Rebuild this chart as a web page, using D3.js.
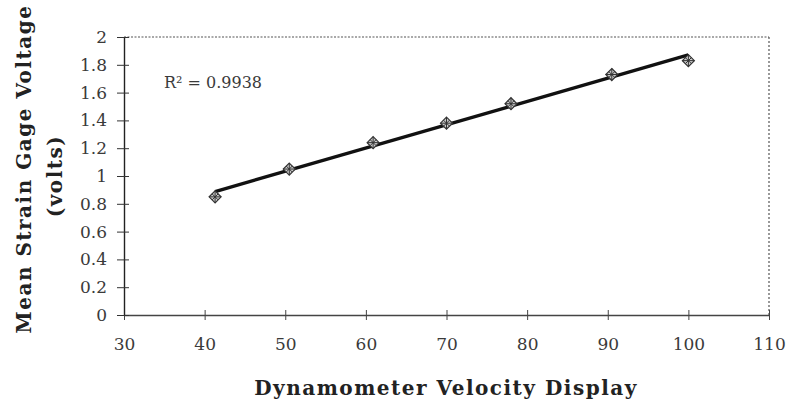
<!DOCTYPE html>
<html><head><meta charset="utf-8">
<script src="https://cdnjs.cloudflare.com/ajax/libs/d3/7.8.5/d3.min.js"></script>
<style>body{margin:0;background:#fff;} svg{display:block;}</style>
</head><body>
<svg id="c" width="788" height="406"></svg>
<script>
const xVals = [41.3, 50.5, 60.9, 70.0, 78.0, 90.5, 100.0];
const yVals = [0.85, 1.05, 1.24, 1.38, 1.52, 1.73, 1.83];
const xTicks = [30, 40, 50, 60, 70, 80, 90, 100, 110];
const yTicks = [0, 0.2, 0.4, 0.6, 0.8, 1, 1.2, 1.4, 1.6, 1.8, 2];
const rLabel = "R² = 0.9938";
const xTitle = "Dynamometer Velocity Display";
const yTitle1 = "Mean Strain Gage Voltage";
const yTitle2 = "(volts)";

const svg = d3.select("#c");
const L = 124, R = 769, T = 37, B = 315;
const x = d3.scaleLinear().domain([30, 110]).range([L, R]);
const y = d3.scaleLinear().domain([0, 2]).range([B, T]);
const serif = "'DejaVu Serif','Liberation Serif',serif";

// plot border (dotted top & right)
svg.append("line").attr("x1", L).attr("x2", R).attr("y1", T).attr("y2", T)
  .attr("stroke", "#555").attr("stroke-width", 1.2).attr("stroke-dasharray", "2,1.5");
svg.append("line").attr("x1", R).attr("x2", R).attr("y1", T).attr("y2", B)
  .attr("stroke", "#555").attr("stroke-width", 1.2).attr("stroke-dasharray", "2,2");

// x axis
const xa = svg.append("g").attr("transform", `translate(0,${B})`)
  .call(d3.axisBottom(x).tickValues(xTicks).tickSize(5).tickSizeOuter(0).tickPadding(18).tickFormat(d3.format("d")));
xa.select(".domain").attr("stroke", "#444").attr("stroke-width", 1.6);
xa.selectAll(".tick line").attr("y1", -5).attr("stroke", "#444");
xa.selectAll("text").attr("font-family", serif).attr("font-size", 17).attr("fill", "#3a3a3a");

// y axis
const ya = svg.append("g").attr("transform", `translate(${L},0)`)
  .call(d3.axisLeft(y).tickValues(yTicks).tickSize(7).tickSizeOuter(0).tickPadding(10)
    .tickFormat(d => d3.format("")(+d.toFixed(1))));
ya.select(".domain").attr("stroke", "#222").attr("stroke-width", 1.4);
ya.selectAll(".tick line").attr("x1", 5).attr("stroke", "#333");
ya.selectAll("text").attr("font-family", serif).attr("font-size", 17).attr("fill", "#3a3a3a");

// trendline (least squares from data)
const n = xVals.length;
const mx = d3.mean(xVals), my = d3.mean(yVals);
let sxy = 0, sxx = 0;
for (let i = 0; i < n; i++) { sxy += (xVals[i]-mx)*(yVals[i]-my); sxx += (xVals[i]-mx)**2; }
const slope = sxy / sxx, icpt = my - slope * mx;
const xmin = d3.min(xVals), xmax = d3.max(xVals);
svg.append("line")
  .attr("x1", x(xmin)).attr("y1", y(icpt + slope*xmin))
  .attr("x2", x(xmax)).attr("y2", y(icpt + slope*xmax))
  .attr("stroke", "#111").attr("stroke-width", 3.4);

// markers
const mk = svg.append("g").selectAll("g").data(xVals.map((v,i)=>[v,yVals[i]])).join("g")
  .attr("transform", d => `translate(${x(d[0])},${y(d[1])})`);
mk.append("path").attr("d", "M0,-6L6,0L0,6L-6,0Z").attr("fill", "#ccc").attr("stroke", "#333").attr("stroke-width", 1.2);
mk.append("path").attr("d", "M-3,-3L3,3M3,-3L-3,3M-6,0L6,0M0,-6L0,6").attr("stroke", "#333").attr("stroke-width", 1);

// R^2 label
svg.append("text").attr("x", 164).attr("y", 88).attr("font-family", serif).attr("font-size", 16).attr("fill", "#3a3a3a")
  .text(rLabel);

// titles
svg.append("text").attr("x", 446).attr("y", 395).attr("text-anchor", "middle")
  .attr("font-family", serif).attr("font-weight", "bold").attr("font-size", 20).attr("letter-spacing", 1.5)
  .attr("fill", "#222").text(xTitle);
svg.append("text").attr("transform", "translate(31,169) rotate(-90)").attr("text-anchor", "middle")
  .attr("font-family", serif).attr("font-weight", "bold").attr("font-size", 20).attr("letter-spacing", 1.5)
  .attr("fill", "#222").text(yTitle1);
svg.append("text").attr("transform", "translate(62,176) rotate(-90)").attr("text-anchor", "middle")
  .attr("font-family", serif).attr("font-weight", "bold").attr("font-size", 20).attr("letter-spacing", 1.5)
  .attr("fill", "#222").text(yTitle2);
</script>
</body></html>
